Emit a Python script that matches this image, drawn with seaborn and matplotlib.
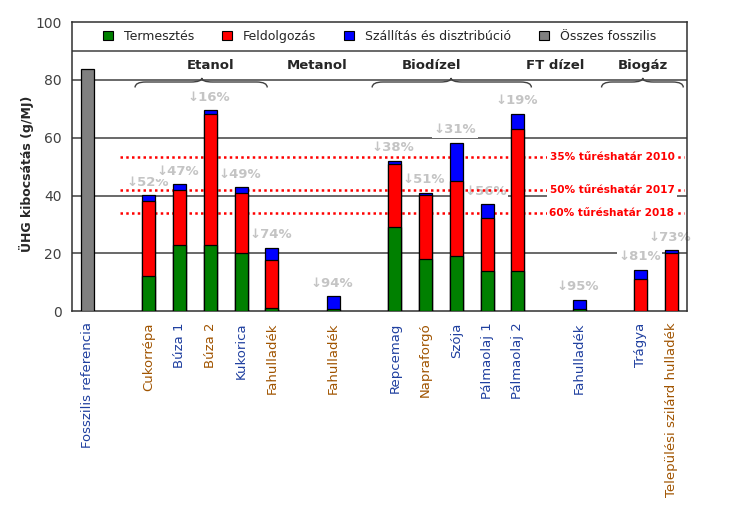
import numpy as np
import pandas as pd
import matplotlib
matplotlib.use("Agg")
import matplotlib.pyplot as plt
import seaborn as sns
from matplotlib.patches import Patch, PathPatch
from matplotlib.path import Path

nan = np.nan
categories = ["Fosszilis referencia", "", "Cukorrépa", "Búza 1", "Búza 2", "Kukorica",
              "Fahulladék", "", "Fahulladék", "", "Repcemag", "Napraforgó", "Szója",
              "Pálmaolaj 1", "Pálmaolaj 2", "", "Fahulladék", "", "Trágya",
              "Települési szilárd hulladék"]
label_colors = ["blue", "", "orange", "blue", "orange", "blue", "orange", "", "orange", "",
                "blue", "orange", "blue", "blue", "blue", "", "blue", "", "blue", "orange"]
fossil = [83.8] + [nan] * 19
termesztes = [nan, nan, 12.1, 22.8, 22.8, 20.2, 1.0, nan, 0.8, nan, 29.0, 17.9, 19.0, 14.0, 14.0, nan, 0.9, nan, nan, nan]
feldolgozas = [nan, nan, 26.1, 19.3, 45.4, 20.6, 16.8, nan, nan, nan, 21.9, 22.2, 26.1, 18.1, 49.2, nan, nan, nan, 11.0, 20.2]
szallitas = [nan, nan, 1.9, 1.9, 1.3, 2.1, 4.2, nan, 4.4, nan, 1.1, 0.9, 13.1, 4.9, 5.1, nan, 3.1, nan, 3.4, 0.8]
reductions = ["", "", "↓52%", "↓47%", "↓16%", "↓49%", "↓74%", "", "↓94%", "", "↓38%", "↓51%",
              "↓31%", "↓56%", "↓19%", "", "↓95%", "", "↓81%", "↓73%"]
thresholds = [53.5, 41.9, 34.0]
threshold_labels = ["35% tűréshatár 2010", "50% tűréshatár 2017", "60% tűréshatár 2018"]
groups = ["Etanol", "Metanol", "Biodízel", "FT dízel", "Biogáz"]
legend_labels = ["Termesztés", "Feldolgozás", "Szállítás és disztribúció", "Összes fosszilis"]

GREEN, RED, BLUE, GRAY = "#008000", "#ff0000", "#0000ff", "#808080"
TXT_BLUE, TXT_ORANGE = "#1f3f9f", "#a05400"

sns.set_style("white")
plt.rcParams["font.family"] = ["DejaVu Sans"]

slots = [str(i) for i in range(len(categories))]
g = np.array(termesztes, dtype=float)
r = np.array(feldolgozas, dtype=float)
b = np.array(szallitas, dtype=float)
g0 = np.nan_to_num(g)
r0 = np.nan_to_num(r)
b0 = np.nan_to_num(b)
total = g0 + r0 + b0
has = ~(np.isnan(g) & np.isnan(r) & np.isnan(b))
df = pd.DataFrame({
    "slot": slots,
    "total": np.where(has & ~np.isnan(b), total, nan),
    "gr": np.where(~np.isnan(r), g0 + r0, nan),
    "g": g,
    "fossil": fossil,
})

fig = plt.figure(figsize=(7.3, 5.23), dpi=100)
ax = fig.add_axes([0.0986, 0.405, 0.8425, 0.5526])

bw = 0.42
common = dict(x="slot", order=slots, width=bw, edgecolor="black", linewidth=0.9,
              ax=ax, zorder=3, errorbar=None)
sns.barplot(data=df, y="fossil", color=GRAY, saturation=1, **common)
sns.barplot(data=df, y="total", color=BLUE, saturation=1, **common)
sns.barplot(data=df, y="gr", color=RED, saturation=1, **common)
sns.barplot(data=df, y="g", color=GREEN, saturation=1, **common)

ax.set_xlim(-0.5, len(categories) - 0.5)
ax.set_ylim(0, 100)

# gridlines and legend separator
for yv in [20, 40, 60, 80, 90]:
    ax.axhline(yv, color="#404040", lw=1.1, zorder=1)

# threshold lines
for yv, lab in zip(thresholds, threshold_labels):
    ax.hlines(yv, 1.06, 19.4, colors=RED, linestyles=(0, (1, 1.3)), lw=1.8, zorder=2.5)
    ax.text(17.06, yv, lab, color=RED, fontsize=7.6, fontweight="bold", ha="center", va="center",
            zorder=2.6, bbox=dict(facecolor="white", edgecolor="none", pad=1.5))

# reduction labels
for i, lab in enumerate(reductions):
    if lab:
        top = total[i]
        ax.text(i - 0.05, top + 4.5, lab, color="#c4c4c4", fontsize=9.5, fontweight="bold",
                ha="center", va="center", zorder=2,
                bbox=dict(facecolor="white", edgecolor="none", pad=1))

# group labels
group_x = [4.0, 7.48, 11.19, 15.2, 18.07]
for name, gx in zip(groups, group_x):
    ax.text(gx, 84.9, name, fontsize=9.5, fontweight="bold", ha="center", va="center", zorder=4)

# braces
def brace(x0, xc, x1, yend=77.4, ymid=79.3, ytop=80.7):
    d = 0.35
    verts = [(x0, yend), (x0, ymid), (x0 + d, ymid),
             (xc - d, ymid), (xc, ymid), (xc, ytop),
             (xc, ymid), (xc + d, ymid),
             (x1 - d, ymid), (x1, ymid), (x1, yend)]
    codes = [Path.MOVETO, Path.CURVE3, Path.CURVE3,
             Path.LINETO, Path.CURVE3, Path.CURVE3,
             Path.CURVE3, Path.CURVE3,
             Path.LINETO, Path.CURVE3, Path.CURVE3]
    ax.add_patch(PathPatch(Path(verts, codes), facecolor="none", edgecolor="#404040", lw=1.0, zorder=4))

brace(1.55, 3.72, 5.85)
brace(9.26, 11.83, 14.44)
brace(16.72, 18.06, 19.38)

# legend
handles = [Patch(facecolor=c, edgecolor="black", lw=0.8) for c in [GREEN, RED, BLUE, GRAY]]
ax.legend(handles, legend_labels, loc="center", bbox_to_anchor=(0.5, 0.951), ncol=4,
          frameon=False, fontsize=9, handlelength=0.8, handleheight=0.8,
          columnspacing=2.2, handletextpad=0.9, borderaxespad=0)

# axes styling
ax.set_xticks(range(len(categories)))
ax.set_xticklabels(categories, rotation=90, fontsize=9.5, va="top", ha="center")
for tl, c in zip(ax.get_xticklabels(), label_colors):
    tl.set_color(TXT_BLUE if c == "blue" else TXT_ORANGE)
ax.set_xticks(np.arange(-0.5, len(categories), 1), minor=True)
ax.tick_params(axis="x", which="major", length=0, pad=8)
ax.tick_params(axis="x", which="minor", length=4, width=1, color="#303030", direction="out")
ax.set_yticks([0, 20, 40, 60, 80, 100])
ax.tick_params(axis="y", length=4, width=1, color="#303030", direction="out",
               labelsize=10, labelcolor="#404040")
ax.set_xlabel("")
ax.set_ylabel("ÜHG kibocsátás (g/MJ)", fontsize=9, fontweight="bold")
ax.yaxis.set_label_coords(-0.062, 0.477)
for s in ax.spines.values():
    s.set_visible(True)
    s.set_color("#303030")
    s.set_linewidth(1.1)

fig.savefig("out.png", dpi=100)
